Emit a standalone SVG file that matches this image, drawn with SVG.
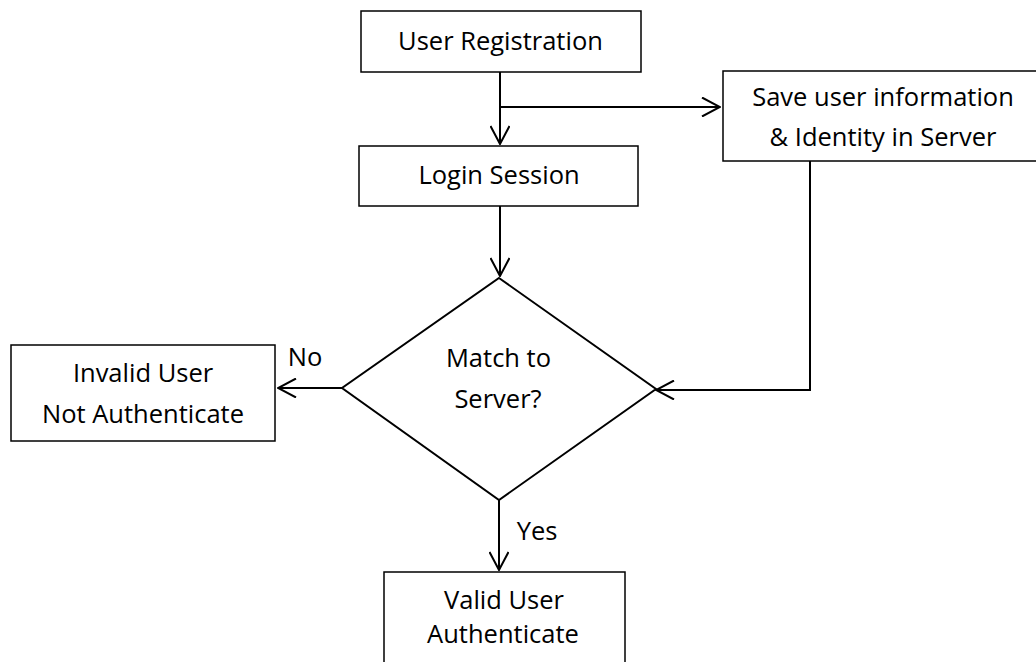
<svg xmlns="http://www.w3.org/2000/svg" width="1036" height="662" viewBox="0 0 1036 662">
<style>
.box{fill:#fff;stroke:#000;stroke-width:1.5}
.ln{fill:none;stroke:#000;stroke-width:2}
.t{font-family:"Open Sans","Noto Sans",sans-serif;font-size:25.5px;fill:#000;text-anchor:middle}
</style>
<defs>
<marker id="arr" viewBox="0 0 20 20" refX="19" refY="10" markerWidth="20" markerHeight="20" markerUnits="userSpaceOnUse" orient="auto">
<path d="M1,0.5 L19,10 L1,19.5" fill="none" stroke="#000" stroke-width="2"/>
</marker>
</defs>
<rect width="1036" height="662" fill="#fff"/>
<g id="connectors">
<line class="ln" x1="500" y1="72" x2="500" y2="144" marker-end="url(#arr)"/>
<line class="ln" x1="500" y1="107" x2="720" y2="107" marker-end="url(#arr)"/>
<line class="ln" x1="500" y1="206" x2="500" y2="276" marker-end="url(#arr)"/>
<polyline class="ln" points="810,161 810,390 656,390" marker-end="url(#arr)"/>
<line class="ln" x1="342" y1="388" x2="278" y2="388" marker-end="url(#arr)"/>
<line class="ln" x1="499" y1="500" x2="499" y2="570" marker-end="url(#arr)"/>
<text class="t" x="305" y="366">No</text>
<text class="t" x="537" y="540">Yes</text>
</g>
<g id="user-registration">
<rect class="box" x="361" y="11" width="280" height="61"/>
<text class="t" x="500.5" y="50">User Registration</text>
</g>
<g id="save-info">
<rect class="box" x="723" y="71" width="320" height="90"/>
<text class="t" x="883" y="106">Save user information</text>
<text class="t" x="883" y="146">&amp; Identity in Server</text>
</g>
<g id="login-session">
<rect class="box" x="359" y="146" width="279" height="60"/>
<text class="t" x="499" y="184">Login Session</text>
</g>
<g id="match-server">
<polygon class="box" points="499,278 656,389 499,500 342,388" style="stroke-width:2"/>
<text class="t" x="498.5" y="367">Match to</text>
<text class="t" x="498" y="408">Server?</text>
</g>
<g id="invalid-user">
<rect class="box" x="11" y="345" width="264" height="96"/>
<text class="t" x="143" y="382">Invalid User</text>
<text class="t" x="143" y="423">Not Authenticate</text>
</g>
<g id="valid-user">
<rect class="box" x="384" y="572" width="241" height="110"/>
<text class="t" x="504" y="609">Valid User</text>
<text class="t" x="503" y="643">Authenticate</text>
</g>
</svg>
